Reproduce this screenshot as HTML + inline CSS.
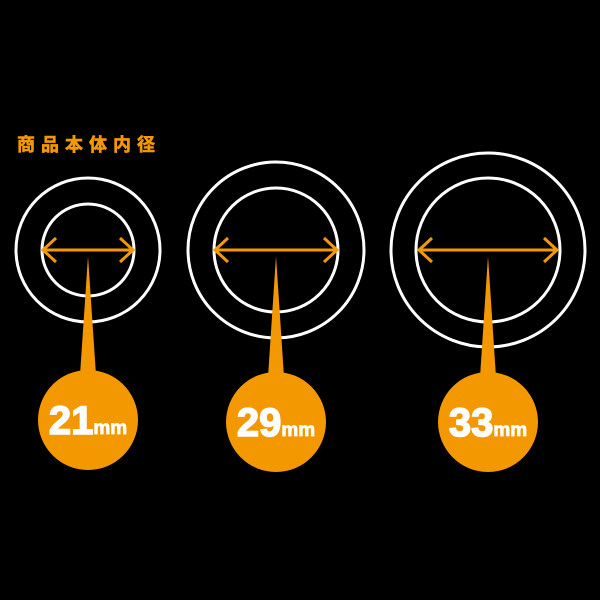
<!DOCTYPE html>
<html><head><meta charset="utf-8"><style>
html,body{margin:0;padding:0;background:#000;width:600px;height:600px;overflow:hidden}
</style></head><body>
<svg width="600" height="600" viewBox="0 0 600 600" xmlns="http://www.w3.org/2000/svg">
<rect width="600" height="600" fill="#000"/>
<text x="17" y="151" font-family="Liberation Sans, Noto Sans CJK JP, sans-serif" font-weight="bold" font-size="18" letter-spacing="6" fill="#f39800" stroke="#f39800" stroke-width="0.6">商品本体内径</text>
<g fill="none" stroke="#fff" stroke-width="3">
<circle cx="88" cy="250" r="72"/><circle cx="88" cy="250" r="46"/>
<circle cx="276" cy="250" r="88"/><circle cx="276" cy="250" r="62"/>
<circle cx="488" cy="250" r="97"/><circle cx="488" cy="250" r="72"/>
</g>
<g fill="none" stroke="#f39800" stroke-width="3">
<path d="M43 250H133M56 238L43 250L56 262M120 238L133 250L120 262"/>
<path d="M215 250H337M228 238L215 250L228 262M324 238L337 250L324 262"/>
<path d="M419 250H557M432 238L419 250L432 262M544 238L557 250L544 262"/>
</g>
<g fill="#f39800">
<path d="M88 256L80 375L96 375Z"/><circle cx="88" cy="420" r="50"/>
<path d="M276 256L268 377L284 377Z"/><circle cx="276" cy="422" r="50"/>
<path d="M488 256L480 377L496 377Z"/><circle cx="488" cy="422" r="50"/>
</g>
<g font-family="Liberation Sans, sans-serif" font-weight="bold" fill="#fff" stroke="#fff" stroke-width="1.5" text-anchor="middle">
<text x="88" y="434"><tspan font-size="40">21</tspan><tspan font-size="19" stroke-width="0.8">mm</tspan></text>
<text x="276" y="436"><tspan font-size="40">29</tspan><tspan font-size="19" stroke-width="0.8">mm</tspan></text>
<text x="488" y="436"><tspan font-size="40">33</tspan><tspan font-size="19" stroke-width="0.8">mm</tspan></text>
</g>
</svg>
</body></html>
